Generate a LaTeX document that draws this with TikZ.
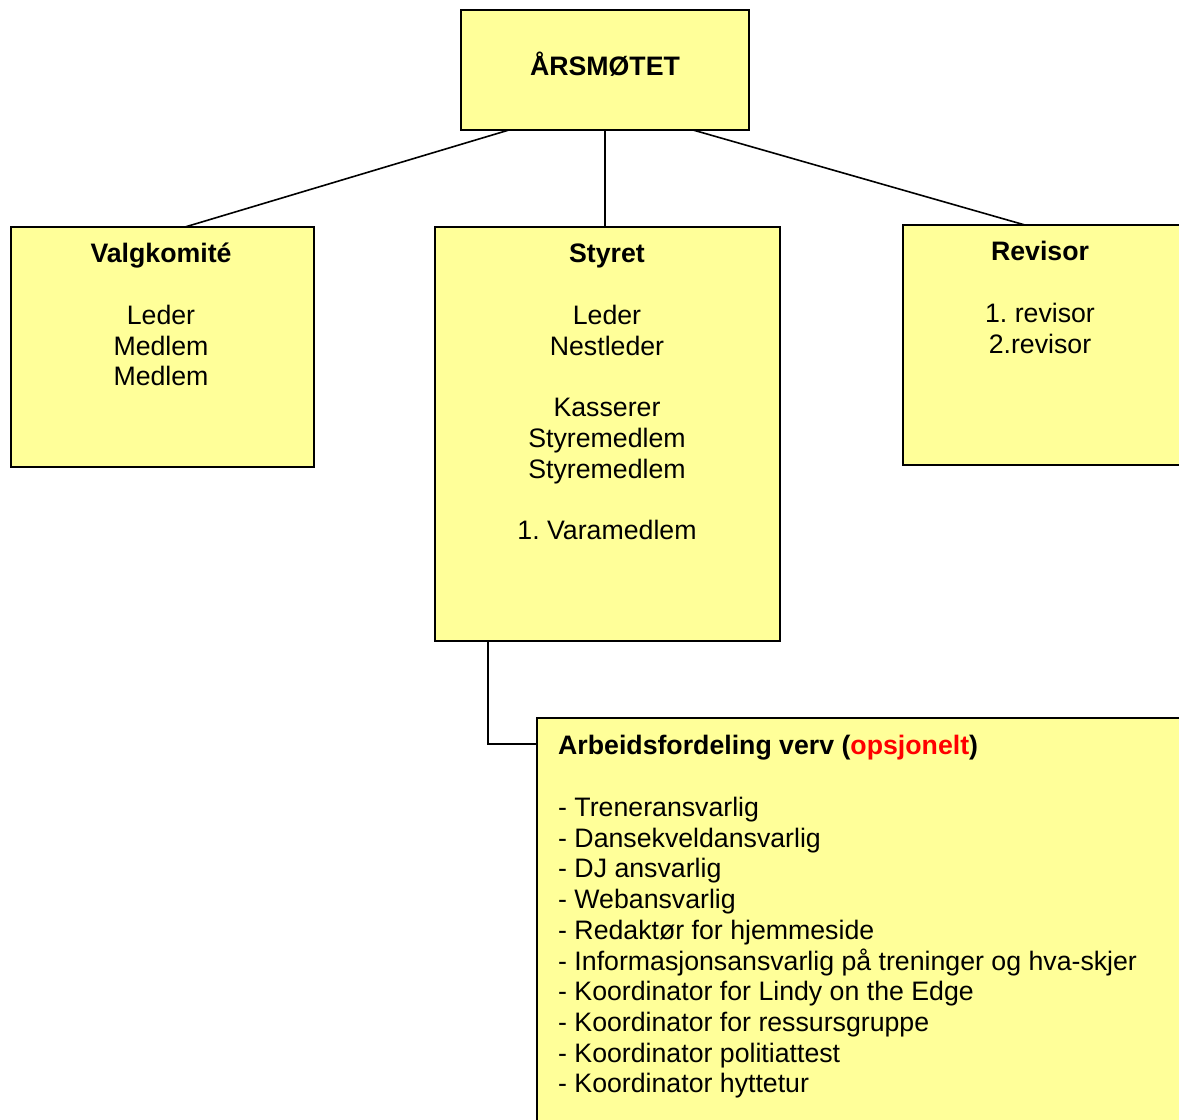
\documentclass[tikz,border=0pt]{standalone}
\usepackage{fontspec}
\setmainfont{Liberation Sans}
\usetikzlibrary{calc}
\definecolor{boxfill}{HTML}{FFFF99}
\definecolor{optred}{HTML}{FF0000}
\begin{document}
\frenchspacing
\begin{tikzpicture}[x=1pt,y=-1pt,
  orgbox/.style={draw=black, line width=1.6pt, fill=boxfill, rectangle, inner sep=0pt, outer sep=0pt, anchor=north west},
  link/.style={draw=black, line width=1.6pt},
  ttl/.style={font=\fontsize{26.7}{30.7}\selectfont\bfseries, inner sep=0pt, anchor=base},
  body/.style={font=\fontsize{26.7}{30.7}\selectfont, inner sep=0pt, anchor=north, align=center},
]
\useasboundingbox (0,0) rectangle (1179,1120);
\clip (0,0) rectangle (1179,1120);
\fill[white] (0,0) rectangle (1179,1120);

\node[orgbox, minimum width=288pt, minimum height=120pt] (ars) at (461,10) {};
\node[orgbox, minimum width=303pt, minimum height=240pt] (valg) at (11,227) {};
\node[orgbox, minimum width=345pt, minimum height=414pt] (styret) at (435,227) {};
\node[orgbox, minimum width=300pt, minimum height=240pt] (rev) at (903,225) {};
\node[orgbox, minimum width=680pt, minimum height=450pt] (arb) at (537,718) {};

\draw[link] ($(ars.south west)+(48,0)$) -- ($(valg.north west)+(174,0)$);
\draw[link] ($(ars.south west)+(144,0)$) -- ($(styret.north west)+(170,0)$);
\draw[link] ($(ars.south west)+(232,0)$) -- ($(rev.north west)+(122,0)$);
\draw[link] ($(styret.south west)+(53,0)$) |- ($(arb.north west)+(0,26)$);

\node[ttl] (arsT) at (605,75) {ÅRSMØTET};
\node[ttl] (valgT) at (161,262) {Valgkomité};
\node[body] (valgB) at (161,305) {Leder\\Medlem\\Medlem};
\node[ttl] (styT) at (607,262) {Styret};
\node[body] (styB) at (607,305) {Leder\\Nestleder\\[30.7pt]Kasserer\\Styremedlem\\Styremedlem\\[30.7pt]1. Varamedlem};
\node[ttl] (revT) at (1040,260) {Revisor};
\node[body] (revB) at (1040,303) {1. revisor\\2.revisor};
\node[ttl, anchor=base west] (arbT) at (558,754) {Arbeidsfordeling verv (\textcolor{optred}{opsjonelt})};
\node[body, align=left, anchor=north west] (arbB) at (558,797) {- Treneransvarlig\\- Dansekveldansvarlig\\- DJ ansvarlig\\- Webansvarlig\\- Redaktør for hjemmeside\\- Informasjonsansvarlig på treninger og hva-skjer\\- Koordinator for Lindy on the Edge\\- Koordinator for ressursgruppe\\- Koordinator politiattest\\- Koordinator hyttetur};
\end{tikzpicture}
\end{document}
